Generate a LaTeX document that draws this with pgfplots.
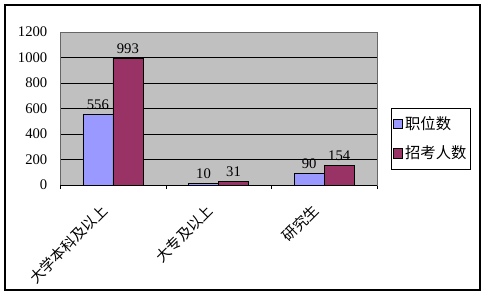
\documentclass[border=0pt]{standalone}
\usepackage{pgfplots}
\pgfplotsset{compat=1.18}
\usepackage{fontspec}
\setmainfont{Liberation Serif}
\newfontfamily\cjk{Noto Sans CJK SC}
\definecolor{bluebar}{HTML}{9999FF}
\definecolor{redbar}{HTML}{993366}
\definecolor{plotbg}{HTML}{C0C0C0}
\begin{document}
\begin{tikzpicture}[x=0.75pt,y=0.75pt]
\path[use as bounding box] (-60,-112) rectangle (428,185);
\draw[black, line width=0.8pt] (-55,-105) rectangle (420,180);
\begin{axis}[
  at={(0,0)}, anchor=south west,
  width=237.75pt, height=114.75pt, scale only axis,
  ybar=0pt, bar width=22.5pt,
  xmin=-0.5, xmax=2.5, ymin=0, ymax=1200,
  ytick={0,200,...,1200},
  xtick={0,1,2},
  xticklabels={大学本科及以上,大专及以上,研究生},
  minor xtick={-0.5,0.5,1.5,2.5},
  major tick length=0pt, minor tick length=3pt,
  xtick pos=bottom, ytick pos=left,
  minor tick style={black},
  axis background/.style={fill=plotbg},
  axis line style={draw=gray!80!black},
  ymajorgrids, grid style={black, line width=0.6pt},
  tick label style={font=\fontsize{11}{13}\selectfont},
  yticklabel style={xshift=-6pt},
  /pgf/number format/assume math mode=true,
  /pgf/number format/1000 sep={},
  xticklabel style={font=\fontsize{11}{13}\selectfont\cjk, inner sep=0pt, xshift=-6pt, yshift=-17pt, rotate=45, anchor=east},
  nodes near coords,
  nodes near coords style={font=\fontsize{11}{13}\selectfont, black},
  legend style={at={(1.044,0.503)}, anchor=north west, draw=black, fill=white,
    font=\fontsize{11.5}{13}\selectfont\cjk, row sep=7pt, inner xsep=1pt, inner ysep=4pt,
    cells={anchor=west}},
]
\addplot[fill=bluebar, draw=black, legend image code/.code={\draw[fill=bluebar,draw=black] (0pt,-3.5pt) rectangle (7pt,3.5pt);}] coordinates {(0,556) (1,10) (2,90)};
\addplot[fill=redbar, draw=black, legend image code/.code={\draw[fill=redbar,draw=black] (0pt,-3.5pt) rectangle (7pt,3.5pt);}] coordinates {(0,993) (1,31) (2,154)};
\legend{职位数,招考人数}
\draw[black] (rel axis cs:0,0) -- (rel axis cs:1,0);
\end{axis}
\end{tikzpicture}
\end{document}
